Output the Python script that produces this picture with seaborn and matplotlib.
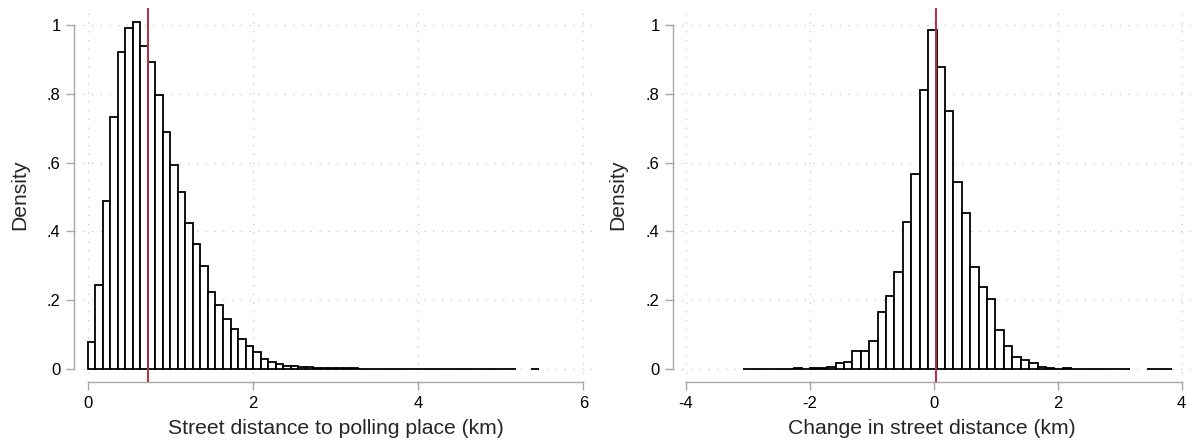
import numpy as np
import pandas as pd
import seaborn as sns
import matplotlib.pyplot as plt

# bin heights (density)
dist_start, dist_width = 0.0, 0.091
dist_density = [0.078, 0.244, 0.488, 0.731, 0.921, 0.991, 1.007, 0.938, 0.891, 0.797,
                0.688, 0.594, 0.513, 0.423, 0.362, 0.299, 0.223, 0.187, 0.144, 0.116,
                0.087, 0.066, 0.048, 0.030, 0.021, 0.015, 0.010, 0.008, 0.007, 0.006,
                0.004, 0.002, 0.002, 0.002, 0.002, 0.0015, 0.001, 0.001, 0.001, 0.001,
                0.001, 0.001, 0.001, 0.001, 0.001, 0.001, 0.001, 0.001, 0.001, 0.001,
                0.001, 0.001, 0.001, 0.001, 0.001, 0.001, 0.001, 0.0, 0.0, 0.001]
dist_median = 0.734

change_start, change_width = -3.08, 0.1358
change_density = [0.001, 0.001, 0.001, 0.001, 0.001, 0.001, 0.003, 0.001, 0.002, 0.003,
                  0.005, 0.016, 0.019, 0.051, 0.051, 0.081, 0.167, 0.211, 0.281, 0.428,
                  0.566, 0.810, 0.984, 0.877, 0.750, 0.544, 0.453, 0.297, 0.237, 0.202,
                  0.112, 0.067, 0.036, 0.025, 0.016, 0.005, 0.003, 0.001, 0.002, 0.001,
                  0.001, 0.001, 0.001, 0.001, 0.001, 0.001, 0.0, 0.0, 0.001, 0.001, 0.001]
change_median = 0.03

ytick_vals = [0, 0.2, 0.4, 0.6, 0.8, 1]
ytick_labels = ["0", ".2", ".4", ".6", ".8", "1"]

sns.set_style("white")
plt.rcParams['font.family'] = ['Liberation Sans', 'DejaVu Sans']

fig = plt.figure(figsize=(11.91, 4.45), dpi=100)
ax1 = fig.add_axes([0.0624, 0.1409, 0.4389, 0.8411])
ax2 = fig.add_axes([0.5653, 0.1409, 0.4347, 0.8411])

axis_grey = "#a8a8a8"
grid_grey = "#c4c4c4"
red = "#b03040"


def draw(ax, start, width, dens, med, xticks, xlim, xlabel):
    n = len(dens)
    centers = start + width * (np.arange(n) + 0.5)
    df = pd.DataFrame({"x": centers, "w": dens})
    sns.histplot(data=df, x="x", weights="w", binwidth=width,
                 binrange=(start, start + n * width), stat="count",
                 color="white", edgecolor="black", linewidth=1.3, alpha=1, ax=ax)
    for p in ax.patches:
        if p.get_height() == 0:
            p.set_visible(False)
    ax.axvline(med, color=red, lw=1.4, zorder=5)
    ax.set_axisbelow(True)
    ax.grid(True, color=grid_grey, lw=0.9, linestyle=(0, (1, 6)))
    ax.set_xlim(*xlim)
    ax.set_ylim(-0.0387, 1.049)
    ax.set_xticks(xticks)
    ax.set_xticklabels([f"{t:g}" for t in xticks])
    ax.set_yticks(ytick_vals)
    ax.set_yticklabels(ytick_labels)
    for s in ["top", "right"]:
        ax.spines[s].set_visible(False)
    ax.spines["left"].set_bounds(0, 1)
    ax.spines["bottom"].set_bounds(xticks[0], xticks[-1])
    for s in ["left", "bottom"]:
        ax.spines[s].set_color(axis_grey)
        ax.spines[s].set_linewidth(1.0)
    ax.tick_params(axis="both", direction="out", length=5.8, width=1.0,
                   color=axis_grey, labelsize=12, labelcolor="black", pad=4,
                   left=True, bottom=True)
    ax.set_xlabel(xlabel, fontsize=15.2, labelpad=6)
    ax.set_ylabel("Density", fontsize=15.2, labelpad=13)


draw(ax1, dist_start, dist_width, dist_density, dist_median,
     [0, 2, 4, 6], (-0.162, 6.166), "Street distance to polling place (km)")
draw(ax2, change_start, change_width, change_density, change_median,
     [-4, -2, 0, 2, 4], (-4.206, 4.15), "Change in street distance (km)")

fig.savefig("out.png", dpi=100)
